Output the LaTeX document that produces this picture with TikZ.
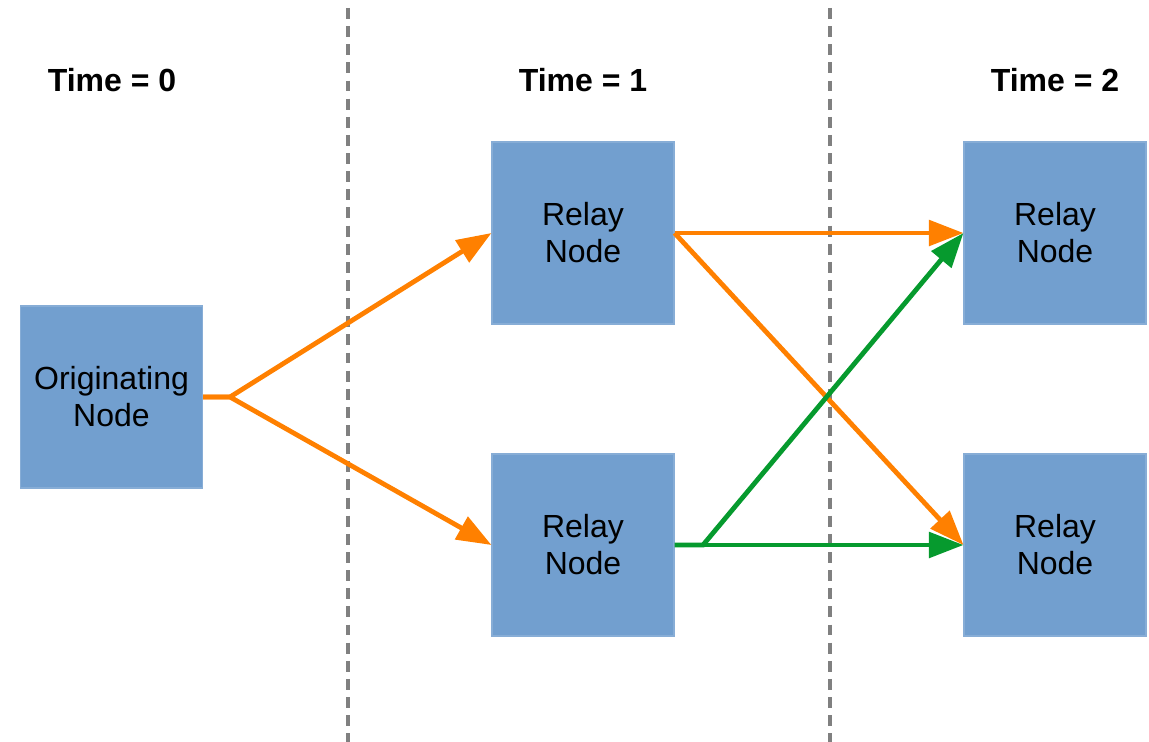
\documentclass[tikz,border=0pt]{standalone}
\usepackage{fontspec}
\setmainfont{Liberation Sans}
\usetikzlibrary{arrows.meta}
\definecolor{boxblue}{HTML}{729FCF}
\definecolor{flowor}{HTML}{FF8000}
\definecolor{flowgr}{HTML}{069A2E}
\definecolor{divgray}{HTML}{808080}
\tikzset{
  netbox/.style={fill=boxblue, draw=boxblue!85!white, line width=0.8pt,
    minimum width=136.5pt, minimum height=136.5pt, inner sep=0pt,
    align=center, font=\fontsize{24}{27.8}\selectfont},
  timelabel/.style={font=\fontsize{24}{28}\selectfont\bfseries},
  divider/.style={divgray, line width=3.4pt, dash pattern=on 8.2pt off 5.4pt},
  orangeflow/.style={flowor, line width=3.6pt, -{Triangle[length=26pt,width=19pt]}},
  greenflow/.style={flowgr, line width=3.6pt, -{Triangle[length=26pt,width=19pt]}},
}
\begin{document}
\begin{tikzpicture}[x=0.75pt, y=-0.75pt]
\useasboundingbox (0,0) rectangle (1149,742);

% time dividers
\coordinate (d1top) at (348,8);
\coordinate (d1bot) at (348,742);
\coordinate (d2top) at (830,8);
\coordinate (d2bot) at (830,742);
\draw[divider] (d1top) -- (d1bot);
\draw[divider] (d2top) -- (d2bot);

% time step headings
\node[timelabel] (t0) at (112,80) {Time = 0};
\node[timelabel] (t1) at (583,80) {Time = 1};
\node[timelabel] (t2) at (1055,80) {Time = 2};

% nodes
\node[netbox] (orig) at (111.5,397) {Originating\\Node};
\node[netbox] (r1) at (583,233) {Relay\\Node};
\node[netbox] (r2) at (583,545) {Relay\\Node};
\node[netbox] (r3) at (1055,233) {Relay\\Node};
\node[netbox] (r4) at (1055,545) {Relay\\Node};

% branching points
\coordinate (osplit) at (230,397);
\coordinate (gsplit) at (703,545);

% first hop
\draw[orangeflow] (orig.east) -- (osplit) -- (r1.west);
\draw[orangeflow] (orig.east) -- (osplit) -- (r2.west);

% second hop
\draw[orangeflow] (r1.east) -- (r3.west);
\draw[orangeflow] (r1.east) -- (r4.west);
\draw[greenflow] (r2.east) -- (gsplit) -- (r3.west);
\draw[greenflow] (r2.east) -- (gsplit) -- (r4.west);
\end{tikzpicture}
\end{document}
